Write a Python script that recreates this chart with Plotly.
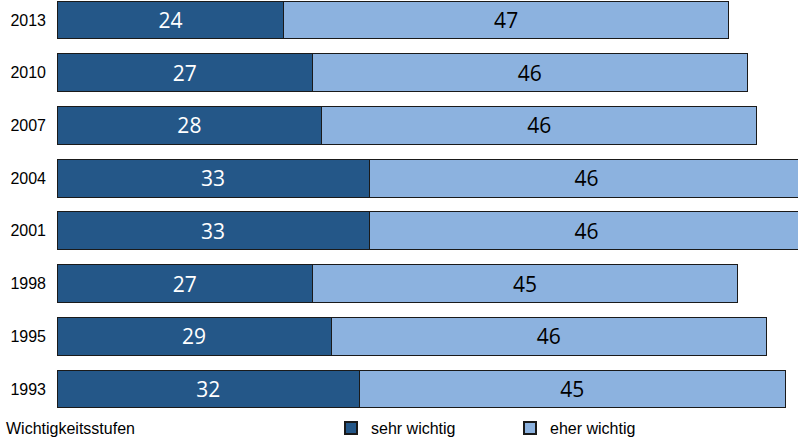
import plotly.graph_objects as go

years = ["1993", "1995", "1998", "2001", "2004", "2007", "2010", "2013"]
sehr_wichtig = [32, 29, 27, 33, 33, 28, 27, 24]
eher_wichtig = [45, 46, 45, 46, 46, 46, 46, 47]

DARK = "#245788"
LIGHT = "#8CB2DF"
pos = list(range(len(years)))

fig = go.Figure()
fig.add_trace(go.Bar(
    y=pos, x=sehr_wichtig, orientation="h", name="sehr wichtig",
    marker=dict(color=DARK, line=dict(color="#1a1a1a", width=1)),
    width=0.72, text=sehr_wichtig, textposition="inside", insidetextanchor="middle",
    textfont=dict(family="Open Sans", size=21, color="white"),
))
fig.add_trace(go.Bar(
    y=pos, x=eher_wichtig, orientation="h", name="eher wichtig",
    marker=dict(color=LIGHT, line=dict(color="#1a1a1a", width=1)),
    width=0.72, text=eher_wichtig, textposition="inside", insidetextanchor="middle",
    textfont=dict(family="Open Sans", size=21, color="black"),
))

fig.update_layout(
    barmode="stack",
    width=798, height=438,
    margin=dict(l=0, r=0, t=0, b=0, autoexpand=False),
    plot_bgcolor="white", paper_bgcolor="white",
    font=dict(family="Liberation Sans", size=16, color="black"),
    uniformtext=dict(mode="show", minsize=21),
    showlegend=True,
    legend=dict(orientation="h", x=331 / 798, xanchor="left", y=10 / 438, yanchor="middle",
                entrywidth=134, entrywidthmode="pixels", itemsizing="constant",
                font=dict(size=16), bgcolor="rgba(0,0,0,0)", traceorder="normal"),
    annotations=[dict(text="Wichtigkeitsstufen", xref="paper", yref="paper",
                      x=4 / 798, y=10 / 438, xanchor="left", yanchor="middle",
                      showarrow=False, font=dict(size=16))],
)
fig.update_xaxes(domain=[57 / 798, 1], range=[0, 78.37], visible=False, fixedrange=True)
fig.update_yaxes(domain=[18 / 438, 1], range=[-0.588, 7.379], tickvals=pos, ticktext=years,
                 showgrid=False, zeroline=False, showline=False, ticks="",
                 ticklabelstandoff=10, automargin=False, fixedrange=True)

page_js = (
    "document.body.style.margin='0';"
    "document.body.style.overflow='hidden';"
    "document.documentElement.style.overflow='hidden';"
)
fig.write_html("out.html", config={"displayModeBar": False}, post_script=page_js)
